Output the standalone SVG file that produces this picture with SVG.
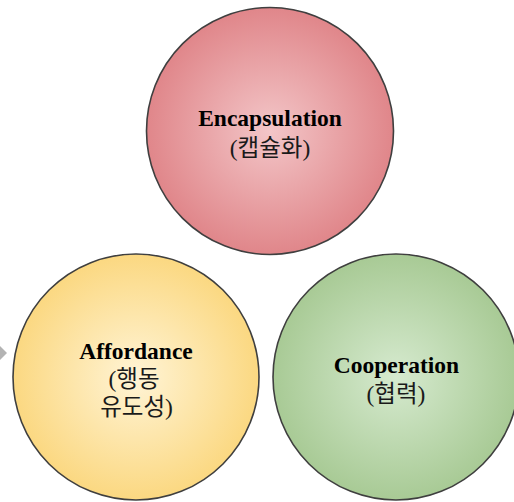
<svg xmlns="http://www.w3.org/2000/svg" width="514" height="502" viewBox="0 0 514 502">
<defs>
<radialGradient id="gRed" cx="50%" cy="50%" r="50%">
<stop offset="0" stop-color="#f3c6c8"/>
<stop offset="1" stop-color="#e0868a"/>
</radialGradient>
<radialGradient id="gYel" cx="50%" cy="50%" r="50%">
<stop offset="0" stop-color="#fff4d6"/>
<stop offset="1" stop-color="#fbd881"/>
</radialGradient>
<radialGradient id="gGrn" cx="50%" cy="50%" r="50%">
<stop offset="0" stop-color="#d6eacf"/>
<stop offset="1" stop-color="#a8ca95"/>
</radialGradient>
</defs>
<style>
.c{stroke:#3f3f3f;stroke-width:1.6}
.en{font-family:"Liberation Serif",serif;font-weight:bold;font-size:23.5px;fill:#000;text-anchor:middle}
.ko{font-family:"Liberation Serif","Noto Sans CJK KR",serif;font-size:23.5px;fill:#1a1a1a;text-anchor:middle}
</style>
<rect width="514" height="502" fill="#ffffff"/>
<g id="connectors">
<polygon points="0,346 7,353 0,360" fill="#b3b3b3"/>
</g>
<g id="encapsulation">
<circle class="c" cx="270" cy="131" r="123.5" fill="url(#gRed)"/>
<text class="en" x="270" y="126">Encapsulation</text>
<text class="ko" x="270" y="156">(캡슐화)</text>
</g>
<g id="affordance">
<circle class="c" cx="136" cy="377" r="123" fill="url(#gYel)"/>
<text class="en" x="136" y="359">Affordance</text>
<text class="ko"><tspan x="134" y="387">(행동</tspan><tspan x="136.5" y="415">유도성)</tspan></text>
</g>
<g id="cooperation">
<circle class="c" cx="396" cy="377" r="123" fill="url(#gGrn)"/>
<text class="en" x="396.5" y="373">Cooperation</text>
<text class="ko" x="396" y="402">(협력)</text>
</g>
</svg>
